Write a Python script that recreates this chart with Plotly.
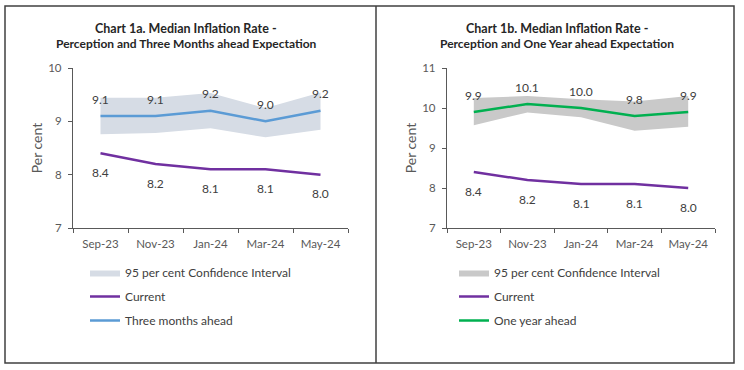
import plotly.graph_objects as go

W, H = 744, 370

months = ["Sep-23", "Nov-23", "Jan-24", "Mar-24", "May-24"]

# Chart 1a
current = [8.4, 8.2, 8.1, 8.1, 8.0]
three_months = [9.1, 9.1, 9.2, 9.0, 9.2]
ci3_upper = [9.44, 9.44, 9.53, 9.25, 9.54]
ci3_lower = [8.76, 8.78, 8.87, 8.70, 8.84]

# Chart 1b
one_year = [9.9, 10.1, 10.0, 9.8, 9.9]
ci1_upper = [10.25, 10.30, 10.22, 10.16, 10.30]
ci1_lower = [9.57, 9.89, 9.77, 9.43, 9.53]

y1_ticks = [7, 8, 9, 10]
y2_ticks = [7, 8, 9, 10, 11]

FONT = "Lato"
C_CURRENT = "#7030A0"
C_THREE = "#5B9BD5"
C_ONE = "#00B050"
C_CI3 = "#D6DCE5"
C_CI1 = "#C9C9C9"
AX = "#595959"
TXT = "#404040"


def px(x):
    return x / W


def py(y):
    return 1 - y / H


fig = go.Figure()

# ---- Chart 1a traces
fig.add_trace(go.Scatter(x=months, y=ci3_lower, mode="lines", line=dict(width=0),
                         showlegend=False, hoverinfo="skip", legendgroup="ci3",
                         xaxis="x", yaxis="y"))
fig.add_trace(go.Scatter(x=months, y=ci3_upper, mode="lines", line=dict(width=0),
                         fill="tonexty", fillcolor=C_CI3, name="95 per cent Confidence Interval",
                         legendgroup="ci3", legend="legend", xaxis="x", yaxis="y"))
fig.add_trace(go.Scatter(x=months, y=current, mode="lines", line=dict(color=C_CURRENT, width=2.5),
                         name="Current", legendgroup="cur1", legend="legend", xaxis="x", yaxis="y"))
fig.add_trace(go.Scatter(x=months, y=three_months, mode="lines", line=dict(color=C_THREE, width=2.5),
                         name="Three months ahead", legendgroup="three", legend="legend",
                         xaxis="x", yaxis="y"))

# ---- Chart 1b traces
fig.add_trace(go.Scatter(x=months, y=ci1_lower, mode="lines", line=dict(width=0),
                         showlegend=False, hoverinfo="skip", legendgroup="ci1",
                         xaxis="x2", yaxis="y2"))
fig.add_trace(go.Scatter(x=months, y=ci1_upper, mode="lines", line=dict(width=0),
                         fill="tonexty", fillcolor=C_CI1, name="95 per cent Confidence Interval",
                         legendgroup="ci1", legend="legend2", xaxis="x2", yaxis="y2"))
fig.add_trace(go.Scatter(x=months, y=current, mode="lines", line=dict(color=C_CURRENT, width=2.5),
                         name="Current", legendgroup="cur2", legend="legend2", xaxis="x2", yaxis="y2"))
fig.add_trace(go.Scatter(x=months, y=one_year, mode="lines", line=dict(color=C_ONE, width=2.5),
                         name="One year ahead", legendgroup="one", legend="legend2",
                         xaxis="x2", yaxis="y2"))

annotations = []


def add_labels(xref, yref, values, shift):
    for m, v in zip(months, values):
        annotations.append(dict(x=m, y=v, xref=xref, yref=yref, text=f"{v:.1f}",
                                showarrow=False, yshift=shift, xanchor="center", yanchor="middle",
                                font=dict(family=FONT, size=12, color=TXT)))


add_labels("x", "y", three_months, 17)
add_labels("x", "y", current, -19)
add_labels("x2", "y2", one_year, 17)
add_labels("x2", "y2", current, -19)

# Titles
for cx, l1, l2 in [(186, "Chart 1a. Median Inflation Rate -", "Perception and Three Months ahead Expectation"),
                   (557, "Chart 1b. Median Inflation Rate -", "Perception and One Year ahead Expectation")]:
    annotations.append(dict(x=px(cx), y=py(28), xref="paper", yref="paper", showarrow=False,
                            xanchor="center", yanchor="middle",
                            text=f"<b>{l1}</b>", font=dict(family=FONT, size=12.5, color="#262626")))
    annotations.append(dict(x=px(cx), y=py(43), xref="paper", yref="paper", showarrow=False,
                            xanchor="center", yanchor="middle",
                            text=f"<b>{l2}</b>", font=dict(family=FONT, size=12, color="#262626")))

axis_common = dict(showline=True, linecolor=AX, linewidth=1.3, ticks="outside", ticklen=4,
                   tickcolor=AX, showgrid=False, zeroline=False, automargin=False,
                   tickfont=dict(family=FONT, size=11.5, color=AX))

fig.update_layout(
    width=W, height=H,
    margin=dict(l=0, r=0, t=0, b=0, autoexpand=False),
    paper_bgcolor="white", plot_bgcolor="white",
    font=dict(family=FONT, color=TXT),
    xaxis=dict(domain=[px(73), px(348)], anchor="y", type="category", tickson="boundaries",
               range=[-0.5, 4.5], tickangle=0, ticklabelstandoff=5, **axis_common),
    yaxis=dict(domain=[py(228), py(68)], anchor="x", range=[7, 10], tickvals=y1_ticks,
               ticklabelstandoff=4,
               title=dict(text="Per cent", font=dict(family=FONT, size=14, color=AX), standoff=2),
               **axis_common),
    xaxis2=dict(domain=[px(447), px(715)], anchor="y2", type="category", tickson="boundaries",
                range=[-0.5, 4.5], tickangle=0, ticklabelstandoff=5, **axis_common),
    yaxis2=dict(domain=[py(228), py(68)], anchor="x2", range=[7, 11], tickvals=y2_ticks,
                ticklabelstandoff=4,
                title=dict(text="Per cent", font=dict(family=FONT, size=14, color=AX), standoff=2),
                **axis_common),
    legend=dict(x=px(85), y=py(258), xanchor="left", yanchor="top", itemwidth=30,
                traceorder="grouped", tracegroupgap=5, bgcolor="rgba(0,0,0,0)",
                font=dict(family=FONT, size=12, color=TXT)),
    legend2=dict(x=px(454), y=py(258), xanchor="left", yanchor="top", itemwidth=30,
                 traceorder="grouped", tracegroupgap=5, bgcolor="rgba(0,0,0,0)",
                 font=dict(family=FONT, size=12, color=TXT)),
    annotations=annotations,
    shapes=[
        dict(type="rect", xref="paper", yref="paper", x0=px(5), x1=px(734), y0=py(363), y1=py(6),
             line=dict(color="#404040", width=1.5)),
        dict(type="line", xref="paper", yref="paper", x0=px(376), x1=px(376), y0=py(363), y1=py(6),
             line=dict(color="#404040", width=1.5)),
    ],
    showlegend=True,
)

fig.write_html("out.html", config={"displayModeBar": False},
               post_script="document.body.style.margin='0';")
